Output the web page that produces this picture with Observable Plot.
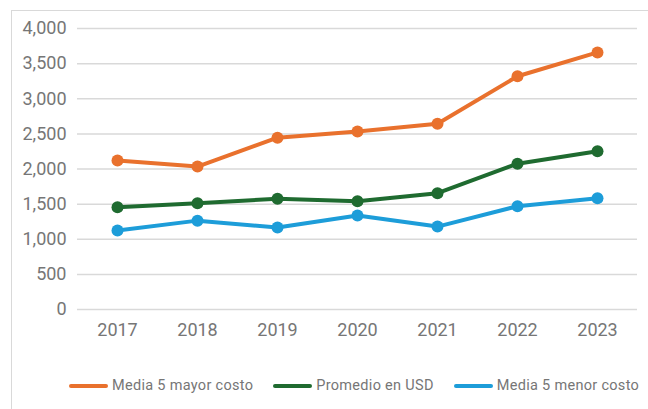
<!DOCTYPE html>
<html>
<head>
<meta charset="utf-8">
<script src="https://cdn.jsdelivr.net/npm/d3@7"></script>
<script src="https://cdn.jsdelivr.net/npm/@observablehq/plot@0.6"></script>
<style>
  html, body { margin: 0; padding: 0; background: #fff; }
  body { width: 648px; height: 409px; position: relative; overflow: hidden; font-family: Roboto, "Noto Sans", sans-serif; }
  #frame { position: absolute; left: 11px; top: 10px; width: 700px; height: 500px; border: 1px solid #d9d9d9; box-sizing: border-box; }
  #chart { position: absolute; left: 0; top: 0; }
  #legend { position: absolute; left: 69px; top: 377px; display: flex; align-items: center; font-size: 14.5px; letter-spacing: 0.3px; color: #767676; white-space: nowrap; }
  .item { display: flex; align-items: center; margin-right: 20px; }
  .sw { width: 39px; height: 4px; border-radius: 2px; margin-right: 4px; }
</style>
</head>
<body>
<div id="frame"></div>
<div id="chart"></div>
<div id="legend"></div>
<script>
const years = ["2017", "2018", "2019", "2020", "2021", "2022", "2023"];
const seriesNames = ["Media 5 mayor costo", "Promedio en USD", "Media 5 menor costo"];
const mayorCosto = [2120, 2035, 2445, 2535, 2645, 3320, 3660];
const promedioUSD = [1456, 1512, 1576, 1542, 1656, 2075, 2253];
const menorCosto = [1125, 1265, 1167, 1338, 1180, 1470, 1584];
const colors = ["#E9712D", "#1F6B30", "#1D9DD9"];
const yTicks = [0, 500, 1000, 1500, 2000, 2500, 3000, 3500, 4000];

const seriesValues = [mayorCosto, promedioUSD, menorCosto];
const data = [];
seriesNames.forEach((s, i) => years.forEach((y, j) => data.push({serie: s, year: y, value: seriesValues[i][j]})));

const chart = Plot.plot({
  width: 648,
  height: 345,
  marginLeft: 77,
  marginRight: 11,
  marginTop: 28,
  marginBottom: 36,
  style: { fontFamily: "Roboto, sans-serif", fontSize: "18px", color: "#767676", background: "transparent" },
  x: { type: "band", domain: years, padding: 0, label: null, tickSize: 0, tickPadding: 14 },
  y: { domain: [0, 4000], ticks: yTicks, label: null, tickSize: 0, tickPadding: 11, tickFormat: d3.format(",") },
  color: { domain: seriesNames, range: colors },
  marks: [
    Plot.gridY(yTicks, { stroke: "#d9d9d9", strokeOpacity: 1, strokeWidth: 1.5 }),
    Plot.axisY({ ticks: yTicks, tickSize: 0, tickPadding: 11, tickFormat: d3.format(","), fill: "#767676", label: null }),
    Plot.axisX({ tickSize: 0, tickPadding: 14, fill: "#767676", label: null }),
    Plot.line(data, { x: "year", y: "value", z: "serie", stroke: "serie", strokeWidth: 4, curve: "linear" }),
    Plot.dot(data, { x: "year", y: "value", fill: "serie", r: 6 })
  ]
});
document.getElementById("chart").appendChild(chart);

const legend = document.getElementById("legend");
seriesNames.forEach((s, i) => {
  const it = document.createElement("div");
  it.className = "item";
  const sw = document.createElement("span");
  sw.className = "sw";
  sw.style.background = colors[i];
  const t = document.createElement("span");
  t.textContent = s;
  it.appendChild(sw);
  it.appendChild(t);
  legend.appendChild(it);
});
</script>
</body>
</html>
